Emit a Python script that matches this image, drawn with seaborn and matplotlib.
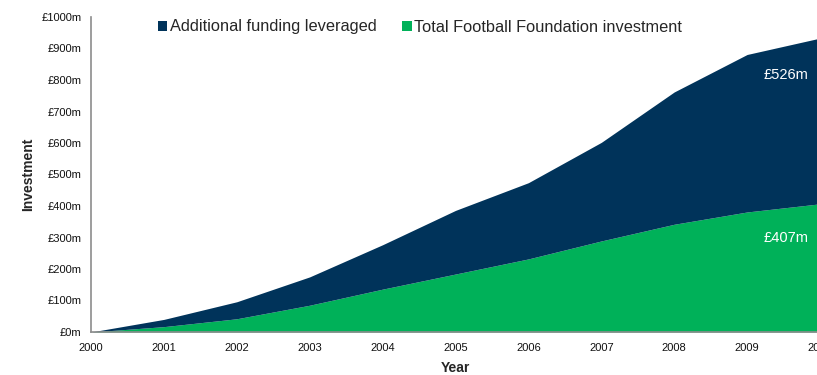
import matplotlib
matplotlib.use("Agg")
import matplotlib.pyplot as plt
from matplotlib.patches import Patch
from matplotlib.ticker import FuncFormatter
import numpy as np
import seaborn as sns

years = [2000, 2001, 2002, 2003, 2004, 2005, 2006, 2007, 2008, 2009, 2010]
foundation_investment = [0, 17, 42, 85, 136, 184, 232, 289, 342, 381, 407]
additional_funding = [0, 23, 54, 90, 141, 202, 242, 313, 420, 500, 526]

series_names = ["Additional funding leveraged", "Total Football Foundation investment"]
navy = "#00335A"
green = "#00B159"
axis_grey = "#8C8C8C"

sns.set_theme(style="white")
plt.rcParams["font.family"] = ["Liberation Sans", "DejaVu Sans"]

fig = plt.figure(figsize=(8.17, 3.75), dpi=100)
ax = fig.add_axes([91 / 817, 43 / 375, 729 / 817, 315 / 375])

ax.stackplot(years, foundation_investment, additional_funding,
             colors=[green, navy], linewidth=0)

ax.set_xlim(2000, 2010)
ax.set_ylim(0, 1000)
ax.set_xticks(years)
ax.set_yticks(np.arange(0, 1001, 100))
ax.yaxis.set_major_formatter(FuncFormatter(lambda v, _: f"£{int(v)}m"))

for side in ["top", "right"]:
    ax.spines[side].set_visible(False)
for side in ["left", "bottom"]:
    ax.spines[side].set_color(axis_grey)
    ax.spines[side].set_linewidth(1.2)
ax.tick_params(axis="both", which="major", direction="out", length=4,
               width=1, color=axis_grey, labelsize=8, labelcolor="#111111", pad=3)
ax.tick_params(axis="x", pad=4)

ax.set_ylabel("Investment", fontsize=10, fontweight="bold", labelpad=4)
ax.set_xlabel("Year", fontsize=10, fontweight="bold", labelpad=6)

# Value labels at the last year
ax.text(2009.53, foundation_investment[-1] + additional_funding[-1] - 117,
        f"£{additional_funding[-1]}m", color="white", fontsize=10.5,
        ha="center", va="center")
ax.text(2009.53, foundation_investment[-1] - 109,
        f"£{foundation_investment[-1]}m", color="white", fontsize=10.5,
        ha="center", va="center")

handles = [Patch(facecolor=navy, edgecolor="none"),
           Patch(facecolor=green, edgecolor="none")]
fig.legend(handles, series_names, loc="center", bbox_to_anchor=(0.514, 0.928),
           ncol=2, frameon=False, fontsize=11.8, handlelength=0.55,
           handleheight=0.55, handletextpad=0.15, columnspacing=1.6)

fig.savefig("out.png", dpi=100)
